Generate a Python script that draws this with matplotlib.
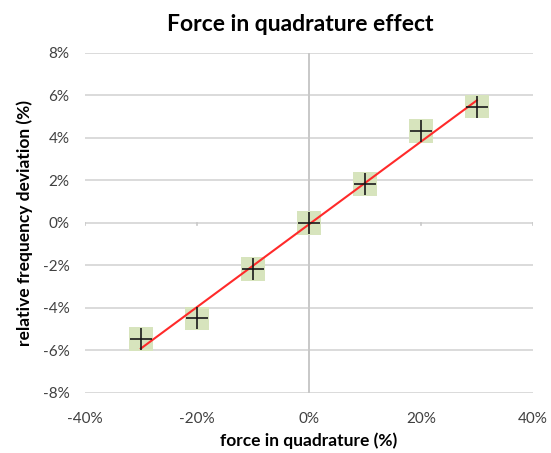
import numpy as np
import matplotlib
matplotlib.use("Agg")
import matplotlib.pyplot as plt
from matplotlib.ticker import FuncFormatter

force = [-30, -20, -10, 0, 10, 20, 30]
deviation = [-5.47, -4.49, -2.18, 0.0, 1.82, 4.33, 5.47]
x_ticks = [-40, -20, 0, 20, 40]
y_ticks = [-8, -6, -4, -2, 0, 2, 4, 6, 8]

plt.rcParams['font.family'] = ['Lato', 'DejaVu Sans']

fig = plt.figure(figsize=(5.51, 4.53), dpi=100)
ax = fig.add_axes([0.154, 0.1325, 0.813, 0.751])

ax.set_xlim(-40, 40)
ax.set_ylim(-8, 8)
for yv in y_ticks:
    ax.axhline(yv, color='#d4d4d4', lw=1.2, zorder=0)
ax.axvline(0, color='#c8c8c8', lw=1.4, zorder=0)

# tick marks along the zero x axis
for xv in x_ticks:
    if xv != 0:
        ax.plot([xv, xv], [0, -0.12], color='#c8c8c8', lw=1.2, zorder=0)

ax.scatter(force, deviation, marker='s', s=290, color='#d7e4bd', edgecolors='none', zorder=2)

coef = np.polyfit(force, deviation, 1)
xs = np.array([force[0], force[-1]])
ax.plot(xs, np.polyval(coef, xs), color='#ff2a2a', lw=1.5, zorder=3)

ax.scatter(force, deviation, marker='+', s=260, color='#1a1a1a', linewidths=1.2, zorder=4)

for s in ax.spines.values():
    s.set_visible(False)
ax.set_xticks(x_ticks)
ax.set_yticks(y_ticks)
ax.xaxis.set_major_formatter(FuncFormatter(lambda v, p: f"{v:.0f}%"))
ax.yaxis.set_major_formatter(FuncFormatter(lambda v, p: f"{v:.0f}%"))
ax.tick_params(axis='both', length=0, labelsize=11, colors='#404040')
ax.tick_params(axis='x', pad=14)
ax.tick_params(axis='y', pad=11)

ax.set_xlabel('force in quadrature (%)', fontsize=12.5, fontweight='bold', labelpad=4)
ax.set_ylabel('relative frequency deviation (%)', fontsize=12.5, fontweight='bold', labelpad=7)
fig.text(0.545, 0.945, 'Force in quadrature effect', ha='center', va='center',
         fontsize=16.5, fontweight='bold')

fig.savefig('out.png', dpi=100)
